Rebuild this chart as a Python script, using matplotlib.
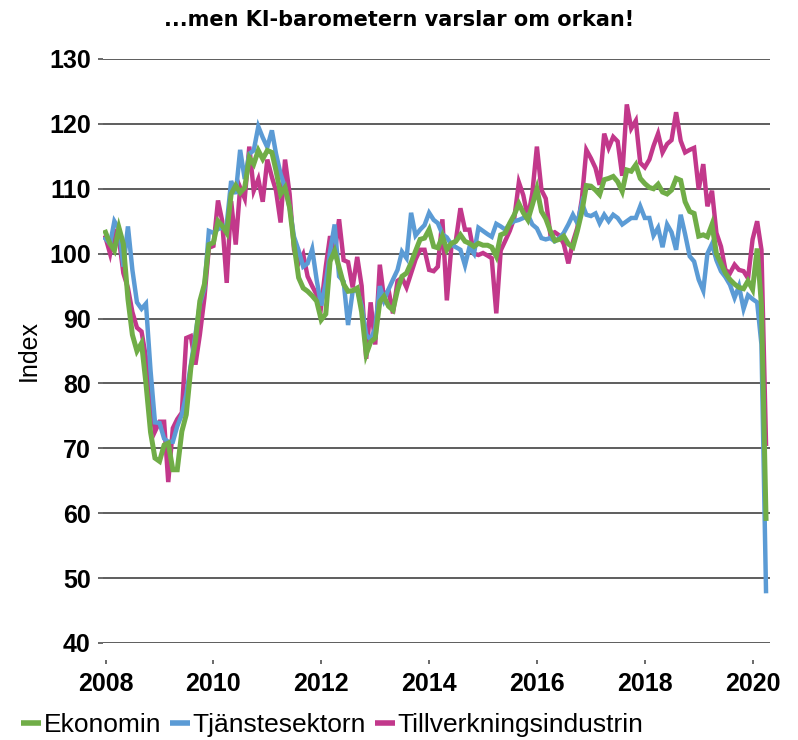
import matplotlib
matplotlib.use("Agg")
import matplotlib.pyplot as plt
import pandas as pd

# ---------------- data (monthly index values, Jan 2008 - Apr 2020) ----------------
start_month = "2008-01-01"

ekonomin = [
    103.3, 101.5, 100.5, 104.0, 101.5, 93.0, 87.5, 85.0, 86.2, 80.0, 72.5, 68.5,      # 2008
    68.0, 70.5, 70.8, 66.7, 66.7, 72.6, 75.2, 82.4, 86.5, 92.7, 95.3, 101.4,          # 2009
    101.7, 105.0, 104.3, 103.2, 109.2, 110.5, 109.4, 110.2, 114.8, 113.8, 115.9, 114.6,  # 2010
    115.9, 115.6, 112.8, 109.2, 110.2, 107.1, 101.4, 96.3, 94.7, 94.2, 93.5, 92.7,    # 2011
    89.8, 90.7, 98.8, 100.4, 97.9, 95.3, 94.2, 94.3, 94.7, 91.0, 84.5, 86.4,          # 2012
    87.0, 92.6, 93.4, 91.9, 91.3, 94.4, 96.5, 97.0, 98.6, 100.4, 102.2, 102.4,        # 2013
    103.7, 101.1, 100.9, 102.7, 100.6, 101.6, 101.9, 102.9, 101.9, 101.6, 101.1, 101.6,  # 2014
    101.3, 101.3, 101.0, 99.6, 102.9, 103.2, 104.7, 106.0, 107.7, 106.3, 105.2, 107.5,  # 2015
    110.0, 106.5, 105.4, 103.5, 102.0, 102.2, 102.7, 101.5, 101.0, 103.5, 106.5, 110.5,  # 2016
    110.4, 109.8, 109.1, 111.4, 111.6, 111.9, 111.1, 109.6, 112.9, 112.7, 113.7, 111.6,  # 2017
    110.8, 110.2, 110.0, 110.7, 109.5, 109.2, 109.8, 111.6, 111.3, 108.0, 106.5, 106.2,  # 2018
    102.7, 102.9, 102.6, 104.5, 100.0, 98.5, 97.0, 96.0, 95.3, 94.8, 94.6, 95.8,      # 2019
    94.5, 100.8, 92.0, 59.2,                                                          # 2020
]

tjanstesektorn = [
    102.3, 101.5, 105.0, 103.8, 98.0, 104.2, 97.5, 92.5, 91.5, 92.3, 82.0, 74.0,      # 2008
    73.9, 71.5, 71.0, 71.0, 73.4, 75.2, 78.3, 82.9, 87.5, 92.2, 94.7, 103.5,          # 2009
    103.2, 103.8, 104.0, 104.5, 111.2, 109.2, 116.0, 111.5, 115.4, 115.9, 119.6, 117.9,  # 2010
    116.4, 119.0, 115.4, 112.3, 110.2, 107.1, 102.6, 100.5, 98.0, 98.5, 100.7, 96.0,  # 2011
    92.0, 95.5, 100.3, 104.5, 96.5, 95.7, 89.0, 94.2, 94.4, 92.0, 87.5, 86.8,         # 2012
    88.5, 95.0, 92.8, 94.5, 96.0, 97.5, 100.3, 99.3, 106.3, 102.8, 103.7, 104.4,      # 2013
    106.3, 105.2, 104.7, 103.0, 102.5, 101.4, 101.0, 100.6, 98.2, 101.0, 100.0, 104.0,  # 2014
    103.5, 103.0, 102.6, 104.6, 104.2, 103.7, 104.6, 105.0, 105.2, 105.5, 106.0, 104.5,  # 2015
    103.9, 102.4, 102.2, 102.4, 101.9, 102.4, 103.2, 104.5, 106.0, 104.7, 107.8, 106.0,  # 2016
    105.8, 106.2, 104.7, 106.0, 105.0, 106.0, 105.5, 104.5, 105.0, 105.5, 105.5, 107.3,  # 2017
    105.5, 105.5, 102.8, 104.0, 101.0, 104.5, 103.3, 100.6, 106.0, 103.0, 99.6, 98.8,  # 2018
    96.0, 94.3, 100.0, 101.5, 99.0, 97.3, 96.4, 95.2, 93.2, 95.0, 91.5, 93.6,         # 2019
    93.0, 92.5, 86.0, 48.0,                                                           # 2020
]

tillverkning = [
    102.5, 100.0, 103.5, 102.3, 97.0, 94.7, 91.0, 88.6, 88.0, 84.0, 78.0, 72.6,       # 2008
    74.1, 74.1, 64.8, 73.1, 74.5, 75.5, 87.0, 87.3, 82.9, 87.5, 93.2, 100.9,          # 2009
    101.2, 108.2, 105.1, 95.5, 108.1, 101.4, 110.2, 108.5, 116.5, 109.7, 111.5, 108.0,  # 2010
    114.5, 111.8, 109.7, 104.8, 114.5, 109.2, 100.6, 98.5, 99.9, 96.5, 95.0, 93.7,    # 2011
    92.0, 98.0, 102.7, 100.0, 105.3, 99.0, 98.7, 94.8, 99.5, 95.0, 83.8, 92.5,        # 2012
    86.0, 98.3, 93.2, 94.4, 90.8, 95.8, 96.3, 94.8, 97.0, 99.1, 100.6, 100.6,         # 2013
    97.5, 97.3, 98.0, 105.3, 92.8, 101.1, 102.0, 107.0, 103.7, 103.7, 100.0, 99.8,    # 2014
    100.1, 99.7, 99.3, 90.8, 100.5, 102.0, 103.5, 105.5, 111.0, 109.0, 105.5, 109.3,  # 2015
    116.5, 109.8, 108.5, 103.0, 103.3, 102.8, 101.5, 98.5, 101.8, 104.0, 108.5, 116.0,  # 2016
    114.7, 113.2, 110.6, 118.5, 116.3, 118.0, 117.3, 112.0, 123.0, 119.3, 120.5, 114.0,  # 2017
    113.3, 114.5, 116.6, 118.5, 115.6, 116.9, 117.5, 121.8, 117.4, 115.6, 116.0, 116.3,  # 2018
    109.9, 113.8, 107.3, 109.7, 103.2, 101.1, 97.5, 97.0, 98.3, 97.5, 97.3, 96.2,     # 2019
    102.2, 105.0, 100.6, 70.7,                                                        # 2020
]

series_names = ["Ekonomin", "Tjänstesektorn", "Tillverkningsindustrin"]
series_colors = ["#70AD47", "#5B9BD5", "#C2388B"]
title_text = "...men KI-barometern varslar om orkan!"
y_label = "Index"
y_ticks = [40, 50, 60, 70, 80, 90, 100, 110, 120, 130]
x_tick_years = [2008, 2010, 2012, 2014, 2016, 2018, 2020]

# ---------------- figure ----------------
dates = pd.date_range(start_month, periods=len(ekonomin), freq="MS")

fig = plt.figure(figsize=(7.98, 7.40), dpi=100)
ax = fig.add_axes([103 / 798, 1 - 643 / 740, 667 / 798, (643 - 59) / 740])

grid_col = "#505050"
order = [(tillverkning, 2, 3.2, 2), (tjanstesektorn, 1, 3.2, 3), (ekonomin, 0, 3.6, 4)]
handles = {}
for vals, idx, lw, z in order:
    ln, = ax.plot(dates, vals, color=series_colors[idx], lw=lw, zorder=z,
                  solid_joinstyle="miter", label=series_names[idx])
    handles[idx] = ln

ax.set_ylim(40, 130)
ax.set_yticks(y_ticks)
ax.set_xlim(pd.Timestamp("2007-12-15"), pd.Timestamp("2020-04-28"))
ax.set_xticks([pd.Timestamp(f"{y}-01-01") for y in x_tick_years])
ax.set_xticklabels([str(y) for y in x_tick_years])

ax.yaxis.grid(True, color=grid_col, lw=1.3)
ax.xaxis.grid(False)
ax.set_axisbelow(True)
for s in ax.spines.values():
    s.set_visible(False)
ax.spines["bottom"].set_position(("outward", 12.5))

ax.tick_params(axis="y", direction="out", length=3.8, width=1.2, color=grid_col,
               pad=5, labelsize=18)
ax.tick_params(axis="x", direction="out", length=3.2, width=1.2, color=grid_col,
               pad=5.5, labelsize=18)
for lab in ax.get_xticklabels() + ax.get_yticklabels():
    lab.set_fontfamily(["Liberation Sans", "DejaVu Sans"])
    lab.set_fontweight("bold")

fig.text(29 / 798, 1 - 351 / 740, y_label, rotation=90, ha="center", va="center",
         fontsize=18, family=["Liberation Sans", "DejaVu Sans"])

fig.text(399 / 798, 1 - 20 / 740, title_text, ha="center", va="center",
         fontsize=15, fontweight="bold", family=["DejaVu Sans"])

leg = fig.legend([handles[0], handles[1], handles[2]], series_names,
                 loc="center left", bbox_to_anchor=(21 / 798, 1 - 725 / 740),
                 ncol=3, frameon=False, borderpad=0, borderaxespad=0,
                 handlelength=0.75, handletextpad=0.1, columnspacing=0.35,
                 prop={"family": ["Liberation Sans", "DejaVu Sans"], "size": 19})
for l in leg.get_lines():
    l.set_linewidth(4)
    l.set_solid_capstyle("butt")

fig.savefig("out.png", dpi=100)
